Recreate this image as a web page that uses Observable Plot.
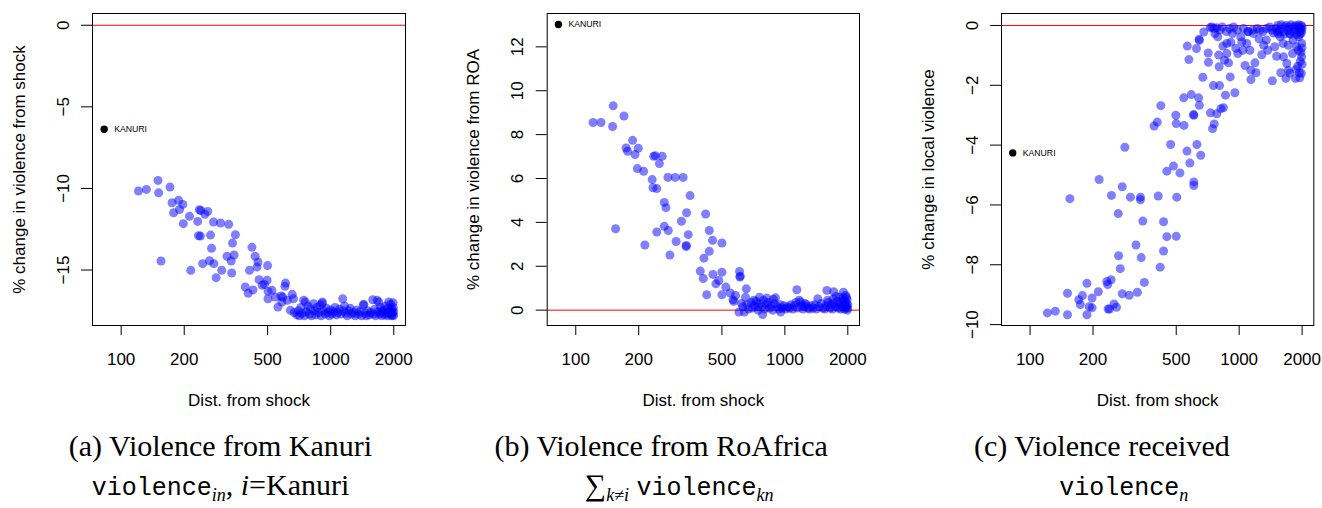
<!DOCTYPE html>
<html><head><meta charset="utf-8">
<script src="https://cdn.jsdelivr.net/npm/d3@7"></script>
<script src="https://cdn.jsdelivr.net/npm/@observablehq/plot@0.6"></script>
<style>
body{margin:0;background:#fff;width:1322px;height:508px;overflow:hidden;position:relative}
.panel{position:absolute;top:0}
.cap{position:absolute;width:441px;text-align:center;font-family:"Liberation Serif",serif;font-size:30px;line-height:30px;color:#000;white-space:nowrap}
.tt{font-family:"Liberation Mono",monospace;font-size:25px}
.sb{font-style:italic;font-size:18px;vertical-align:-6px;line-height:0}
</style></head>
<body>
<div id="p1" class="panel" style="left:0px"></div>
<div id="p2" class="panel" style="left:440px"></div>
<div id="p3" class="panel" style="left:880px"></div>
<div class="cap" style="left:0px;top:431px">(a) Violence from Kanuri</div>
<div class="cap" style="left:0px;top:470px"><span class="tt">violence</span><span class="sb">in</span>, <i>i</i>=Kanuri</div>
<div class="cap" style="left:440.67px;top:431px">(b) Violence from RoAfrica</div>
<div class="cap" style="left:440.67px;top:470px;padding-left:36px;box-sizing:border-box;width:441px">∑<span class="sb">k≠i</span> <span class="tt">violence</span><span class="sb">kn</span></div>
<div class="cap" style="left:881.33px;top:431px">(c) Violence received</div>
<div class="cap" style="left:881.33px;top:470px;padding-left:44px;box-sizing:border-box;width:441px"><span class="tt">violence</span><span class="sb">n</span></div>
<script>
// x tick values (distance from shock) shared by all panels
const xTicks = [100, 200, 500, 1000, 2000];

// Panel (a): violence from Kanuri
const distA = [121,132,150,151,171,155,175,178,188,190,197,198,212,215,232,236,240,239,234,245,251,259,267,270,264,277,276,284,298,302,326,340,351,320,335,346,337,391,404,410,421,426,436,445,450,455,471,483,500,497,503,502,524,544,560,579,585,590,605,609,621,642,655,664,
670,690,700,710,720,730,743,750,757,765,780,790,800,810,829,840,850,860,875,890,900,910,913,925,940,955,970,985,1000,1015,1030,1050,1065,1080,1100,1120,1141,1150,1165,1180,1200,1220,1240,1260,1285,1310,1330,1355,1380,1405,1432,1438,1460,1480,1505,1530,1555,1587,1600,1620,1640,1666,1680,1695,1710,1730,1750,1770,1790,1810,1830,1850,1870,1892,1905,1920,1935,1950,1960,1970,1980,1990,2000,1985,1995,1940,1880,1760];
const valA = [-10.16,-10.06,-9.51,-10.27,-9.92,-14.45,-10.88,-11.49,-10.73,-11.29,-10.98,-12.16,-11.71,-15.02,-12.02,-11.31,-11.35,-12.92,-12.90,-14.61,-11.59,-11.41,-12.86,-13.67,-14.43,-14.61,-12.06,-15.47,-12.12,-15.02,-12.20,-13.35,-12.84,-14.16,-14.45,-14.08,-15.18,-16.04,-16.43,-15.02,-13.61,-16.22,-14.16,-14.82,-14.51,-15.59,-15.94,-15.88,-14.73,-15.63,-16.31,-16.76,-16.24,-16.65,-17.27,-16.59,-16.96,-16.65,-16.0,-15.8,-16.86,-17.47,-16.49,-16.76,
-17.6,-17.75,-17.5,-17.8,-17.3,-17.65,-16.86,-17.8,-16.96,-17.55,-17.2,-17.7,-17.4,-17.8,-17.06,-17.5,-17.75,-17.3,-17.6,-17.15,-17.8,-17.05,-16.96,-17.5,-17.7,-17.35,-17.6,-17.8,-17.45,-17.7,-17.55,-17.3,-17.75,-17.6,-17.4,-17.7,-16.76,-17.5,-17.2,-17.65,-17.8,-17.5,-17.35,-17.7,-17.6,-17.8,-17.45,-17.7,-17.55,-17.8,-17.16,-17.1,-17.65,-17.8,-17.5,-17.75,-17.6,-16.82,-17.7,-17.4,-17.8,-16.86,-17.55,-16.96,-17.7,-17.3,-17.8,-17.6,-17.45,-17.75,-17.2,-17.65,-17.8,-16.96,-17.5,-17.7,-17.1,-17.8,-17.4,-17.6,-17.75,-17.3,-17.55,-17.0,-17.8,-17.55,-17.35,-17.5];
const yTicksA = [0, -5, -10, -15];
const kanuriA = {dist: 83, val: -6.37};

// Panel (b): violence from rest of Africa
const distB = [121,132,151,150,170,155,187,174,177,192,199,197,211,232,236,240,259,251,234,244,214,244,265,270,265,277,282,276,299,326,352,339,320,302,337,338,345,418,435,451,435,500,410,394,407,423,453,468,483,500,500,522,548,565,570,581,607,609,612,654,648,603,640,757,903,783,1141,1437,1588,1712,1906,1950,1830,1760,955,1190,
620,630,660,670,690,700,715,730,745,760,775,790,800,815,830,845,860,875,890,920,935,950,970,990,1010,1030,1050,1070,1090,1110,1130,1150,1170,1200,1220,1240,1265,1290,1315,1340,1365,1390,1415,1460,1490,1520,1550,1580,1610,1640,1665,1690,1720,1745,1780,1800,1820,1850,1870,1890,1910,1925,1940,1955,1965,1975,1985,1995,2000,1990,1970,1900,1700,1600,1250,880,820,740,710];
const valB = [8.55,8.55,9.31,8.37,8.85,3.71,7.74,7.39,7.24,7.09,7.38,6.45,6.33,5.95,7.01,7.04,7.01,6.68,5.58,5.54,2.97,3.56,4.91,4.67,3.82,3.63,2.51,6.05,6.05,6.05,5.22,4.44,4.05,3.13,2.90,2.95,3.44,4.38,3.63,3.18,2.68,3.06,2.37,1.78,1.44,0.70,1.63,1.20,1.35,1.73,0.70,1.05,0.78,0.47,0.40,0.67,1.76,1.51,1.55,0.97,0.59,-0.09,-0.09,0.59,0.56,-0.20,0.93,0.52,0.90,0.84,0.82,0.67,0.59,0.62,-0.09,0.37,
0.3,0.15,0.25,0.05,0.35,0.1,0.2,0.4,0.0,0.3,0.15,0.45,0.05,0.25,0.35,0.1,0.2,0.0,0.3,0.15,0.05,0.25,0.1,0.2,0.05,0.15,0.1,0.25,0.05,0.2,0.35,0.1,0.45,0.2,0.05,0.15,0.25,0.1,0.05,0.2,0.1,0.25,0.05,0.15,0.3,0.1,0.05,0.2,0.35,0.1,0.25,0.05,0.3,0.15,0.4,0.1,0.25,0.05,0.35,0.15,0.45,0.05,0.25,0.1,0.35,0.2,0.5,0.1,0.25,0.0,0.6,0.55,0.5,0.45,0.3,0.5,0.55,0.15,0.45];
const yTicksB = [0, 2, 4, 6, 8, 10, 12];
const kanuriB = {dist: 82.6, val: 13.02};

// Panel (c): violence received locally
const distC = [121,132,151,151,155,171,174,178,187,187,192,198,198,212,214,233,235,244,236,240,252,259,245,264,265,270,276,276,284,298,302,321,326,337,337,340,346,352,392,406,422,410,419,435,435,451,451,470,485,498,500,503,500,521,545,543,563,581,590,605,607,607,607,628,640,645,655,565,575,625,643,645,670,677,711,713,727,729,746,753,760,782,806,802,798,818,841,836,860,851,890,906,873,912,954,964,985,1018,1067,1086,1126,1138,1138,1190,1204,1245,1283,1370,1441,1510,1582,1673,1717,1690,1860,1875,1906,1940,1990,1990,1920,1800,1717,1620,1535,
873,930,1040,1170,1255,1350,1570,1745,1880,1480,1810,1930,765,790,1030,1105,1310,1630,1745,
740,760,780,810,830,870,900,940,980,1050,1100,1160,1220,1300,1350,1400,1430,1460,1500,1530,1560,1590,1620,1650,1680,1710,1740,1770,1800,1830,1860,1890,1910,1930,1950,1965,1980,1995,2000,1985,1945,1880,1760,1640,1520,
1960,1975,1985,2000,1950,1995];
const valC = [-9.61,-9.55,-9.67,-8.95,-5.79,-9.17,-9.33,-9.03,-8.62,-9.67,-9.40,-9.11,-9.44,-8.90,-5.15,-8.56,-8.66,-8.50,-9.48,-9.48,-9.31,-9.42,-5.68,-6.29,-7.70,-8.13,-5.39,-8.97,-4.07,-9.02,-5.74,-7.34,-8.92,-5.74,-5.83,-7.76,-6.54,-8.59,-3.36,-3.23,-2.68,-5.70,-8.08,-6.56,-7.54,-7.06,-4.87,-3.98,-4.70,-3.0,-3.28,-5.74,-7.05,-4.93,-3.34,-2.42,-4.20,-4.60,-2.31,-2.98,-3.0,-5.23,-5.35,-3.98,-2.42,-2.67,-4.34,-0.69,-1.14,-0.77,-0.46,-0.5,-1.73,-0.22,-0.92,-1.23,-0.07,-2.92,-3.45,-2.01,-3.29,-2.95,-2.01,-1.38,-0.99,-2.78,-2.75,-0.69,-2.33,-1.16,-1.25,-1.72,-0.94,-0.56,-2.25,-0.76,-0.94,-0.38,-1.34,-0.60,-0.83,-1.81,-1.50,-1.25,-1.58,-0.45,-0.98,-0.83,-1.85,-1.03,-1.58,-1.77,-1.50,-1.27,-1.77,-1.47,-1.36,-1.58,-1.05,-0.60,-0.83,-0.94,-0.66,-0.60,-0.27,
-0.60,-0.27,-0.83,-0.27,-0.16,-0.49,-0.38,-0.27,-0.71,-0.71,-0.49,-0.38,-0.27,-0.38,-0.55,-0.21,-0.66,-1.05,-1.6,
-0.05,-0.1,-0.08,-0.15,-0.05,-0.2,-0.1,-0.05,-0.15,-0.1,-0.2,-0.15,-0.1,-0.2,-0.1,-0.05,-0.15,-0.25,-0.1,0.0,-0.15,0.02,-0.2,-0.05,0.0,-0.15,-0.05,0.02,-0.2,-0.05,0.0,-0.15,-0.05,0.02,-0.2,-0.1,0.0,-0.15,-0.05,-0.25,-0.3,-0.3,-0.3,-0.3,-0.2,
-1.2,-0.9,-1.6,-1.3,-1.75,-0.75];
const yTicksC = [0, -2, -4, -6, -8, -10];
const kanuriC = {dist: 82.6, val: -4.26};

const xLabel = "Dist. from shock";
const yLabels = ["% change in violence from shock", "% change in violence from ROA", "% change in local violence"];

function panel(el, width, mL, mR, dist, vals, yDomain, yTicks, kan, yLabel) {
  const rows = dist.map((d, i) => ({d, v: vals[i]}));
  const chart = Plot.plot({
    width, height: 420,
    marginLeft: mL, marginRight: mR, marginTop: 13, marginBottom: 95,
    style: {fontFamily: "'Liberation Sans', Arial, sans-serif", fontSize: "17px", background: "transparent", overflow: "visible"},
    x: {type: "log", domain: [73, 2275]},
    y: {domain: yDomain},
    marks: [
      Plot.ruleY([0], {stroke: "red", strokeWidth: 1}),
      Plot.dot(rows, {x: "d", y: "v", r: 4.5, fill: "blue", fillOpacity: 0.5, stroke: "none"}),
      Plot.dot([kan], {x: "dist", y: "val", r: 3.7, fill: "black", stroke: "none"}),
      Plot.text([kan], {x: "dist", y: "val", text: () => "KANURI", dx: 10, textAnchor: "start", fontSize: 8.7, fill: "black"}),
      Plot.frame({stroke: "black"}),
      Plot.axisX({ticks: xTicks, tickFormat: d => String(d), tickSize: 10, tickPadding: 17, fontSize: 17,
        label: xLabel, labelAnchor: "center", labelOffset: 80, labelArrow: false}),
      Plot.axisY({ticks: yTicks, tickFormat: d => d < 0 ? "\u2212" + Math.abs(d) : String(d), tickSize: 11, tickRotate: -90, tickPadding: 13, fontSize: 17,
        label: yLabel, labelAnchor: "center", labelOffset: 80, labelArrow: false})
    ]
  });
  document.getElementById(el).appendChild(chart);
}

panel("p1", 440, 92, 35, distA, valA, [-18.4, 0.72], yTicksA, kanuriA, yLabels[0]);
panel("p2", 440, 106.7, 21, distB, valB, [-0.70, 13.52], yTicksB, kanuriB, yLabels[1]);
panel("p3", 442, 121, 8.7, distC, valC, [-10.03, 0.40], yTicksC, kanuriC, yLabels[2]);
</script>
</body></html>
